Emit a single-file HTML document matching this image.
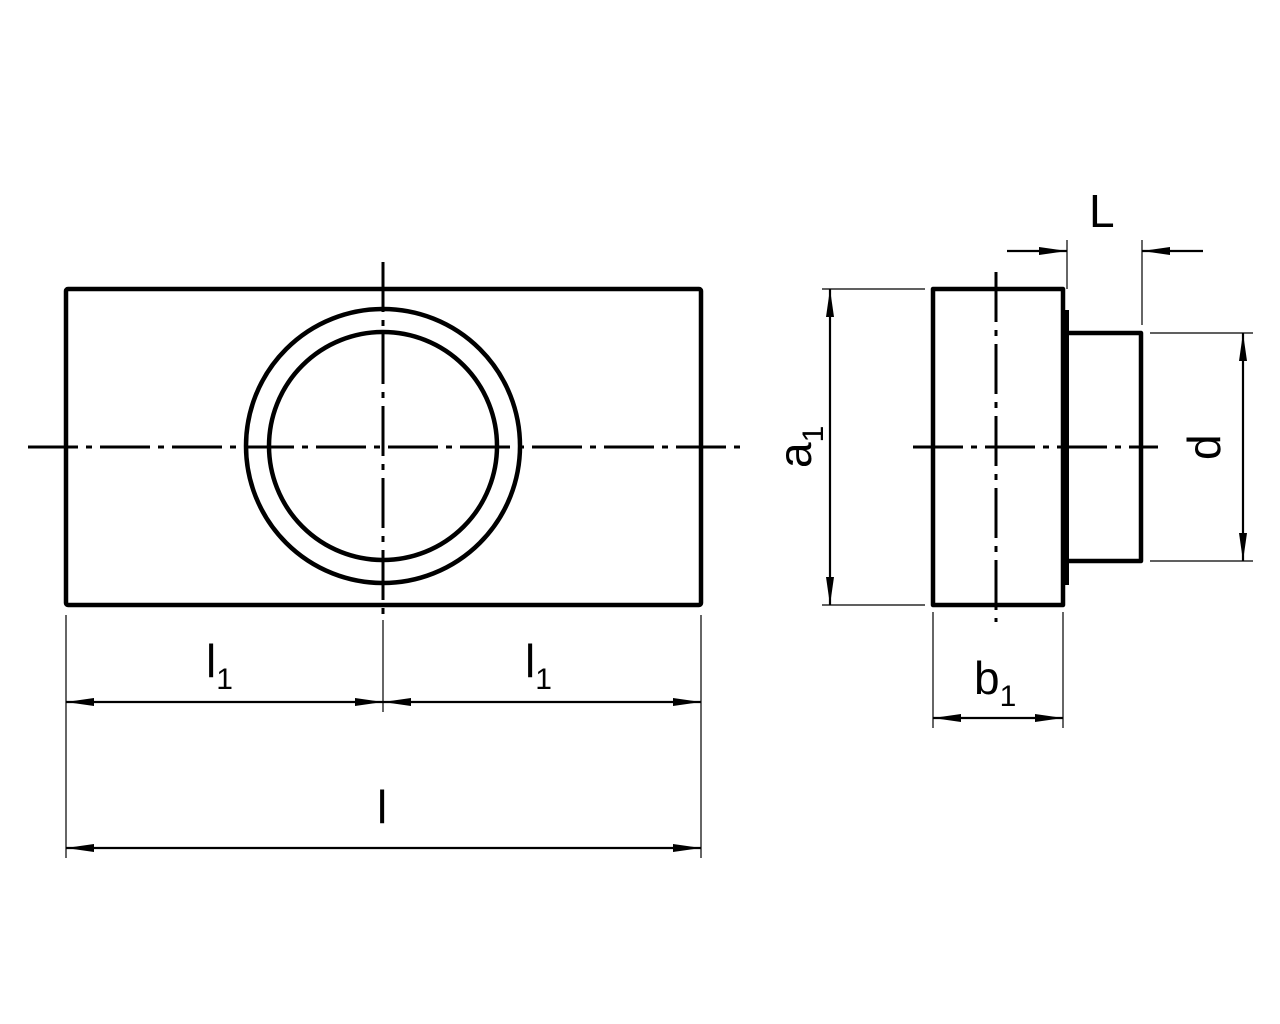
<!DOCTYPE html>
<html><head><meta charset="utf-8"><style>html,body{margin:0;padding:0;background:#fff}svg{display:block}</style></head>
<body>
<svg width="1280" height="1024" viewBox="0 0 1280 1024" xmlns="http://www.w3.org/2000/svg" font-family="Liberation Sans, sans-serif">
<defs>
<marker id="ar" viewBox="0 0 28 10" refX="28" refY="5" markerWidth="28" markerHeight="10" markerUnits="userSpaceOnUse" orient="auto-start-reverse">
<path d="M0,1 L28,5 L0,9 Z" fill="#000"/>
</marker>
</defs>
<g fill="none" stroke="#000" stroke-width="4.5" stroke-linejoin="round">
<rect x="66" y="289" width="635" height="316" rx="2"/>
<circle cx="383" cy="446" r="137"/>
<circle cx="383" cy="446" r="114"/>
<path d="M933,605 V289 H1063 V605 Z"/>
<path d="M1066,310 V585" stroke-width="6"/>
<path d="M1066,333 H1141 V561 H1066"/>
</g>
<g stroke="#000" stroke-width="3" stroke-dasharray="50 8 6 8">
<line x1="28" y1="447" x2="746" y2="447"/>
<line x1="383" y1="262" x2="383" y2="620"/>
<line x1="913" y1="447" x2="1158" y2="447"/>
<line x1="996" y1="272" x2="996" y2="622"/>
</g>
<g stroke="#000" stroke-width="1.2">
<line x1="66" y1="615" x2="66" y2="858"/>
<line x1="701" y1="615" x2="701" y2="858"/>
<line x1="383" y1="620" x2="383" y2="712"/>
<line x1="933" y1="612" x2="933" y2="728"/>
<line x1="1063" y1="612" x2="1063" y2="728"/>
<line x1="822" y1="289" x2="925" y2="289"/>
<line x1="822" y1="605" x2="925" y2="605"/>
<line x1="1150" y1="333" x2="1253" y2="333"/>
<line x1="1150" y1="561" x2="1253" y2="561"/>
<line x1="1067" y1="240" x2="1067" y2="289"/>
<line x1="1142" y1="240" x2="1142" y2="325"/>
</g>
<g stroke="#000" stroke-width="2.2" fill="none">
<line x1="66" y1="702" x2="383" y2="702" marker-start="url(#ar)" marker-end="url(#ar)"/>
<line x1="383" y1="702" x2="701" y2="702" marker-start="url(#ar)" marker-end="url(#ar)"/>
<line x1="66" y1="848" x2="701" y2="848" marker-start="url(#ar)" marker-end="url(#ar)"/>
<line x1="933" y1="718" x2="1063" y2="718" marker-start="url(#ar)" marker-end="url(#ar)"/>
<line x1="830" y1="289" x2="830" y2="605" marker-start="url(#ar)" marker-end="url(#ar)"/>
<line x1="1243" y1="333" x2="1243" y2="561" marker-start="url(#ar)" marker-end="url(#ar)"/>
<line x1="1007" y1="251" x2="1067" y2="251" marker-end="url(#ar)"/>
<line x1="1203" y1="251" x2="1142" y2="251" marker-end="url(#ar)"/>
</g>
<g fill="#000" font-size="46">
<text x="206" y="677">l<tspan font-size="30" dy="12">1</tspan></text>
<text x="525" y="677">l<tspan font-size="30" dy="12">1</tspan></text>
<text x="377" y="823">l</text>
<text x="974" y="694">b<tspan font-size="30" dy="12">1</tspan></text>
<text x="1089" y="227">L</text>
<text transform="translate(811,468) rotate(-90)">a<tspan font-size="30" dy="12">1</tspan></text>
<text transform="translate(1220,460) rotate(-90)">d</text>
</g>
</svg>
</body></html>
